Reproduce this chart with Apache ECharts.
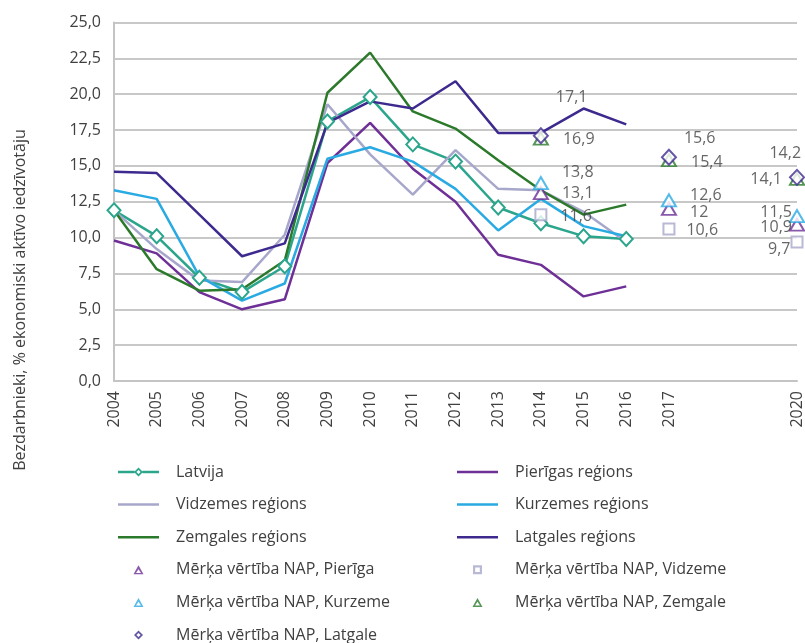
<!DOCTYPE html>
<html>
<head>
<meta charset="utf-8">
<script src="https://cdn.jsdelivr.net/npm/echarts@6/dist/echarts.min.js"></script>
<style>
html,body{margin:0;padding:0;background:#fff;}
#chart{width:805px;height:643px;}
</style>
</head>
<body>
<div id="chart"></div>
<script>
// ---- data ----
const years = ['2004','2005','2006','2007','2008','2009','2010','2011','2012','2013','2014','2015','2016','2017','2018','2019','2020'];
const hiddenYearLabels = ['2018','2019'];
const yTicks = [0, 2.5, 5, 7.5, 10, 12.5, 15, 17.5, 20, 22.5, 25];

const latvija = [11.9, 10.1, 7.2, 6.2, 8.0, 18.1, 19.8, 16.5, 15.3, 12.1, 11.0, 10.1, 9.9, null, null, null, null];
const pieriga = [9.8, 8.9, 6.2, 5.0, 5.7, 15.2, 18.0, 14.8, 12.5, 8.8, 8.1, 5.9, 6.6, null, null, null, null];
const vidzeme = [11.9, 9.2, 7.0, 6.9, 10.2, 19.3, 15.8, 13.0, 16.1, 13.4, 13.3, 11.8, 9.7, null, null, null, null];
const kurzeme = [13.3, 12.7, 7.3, 5.6, 6.8, 15.5, 16.3, 15.3, 13.4, 10.5, 12.7, 10.8, 10.1, null, null, null, null];
const zemgale = [11.9, 7.8, 6.3, 6.4, 8.4, 20.1, 22.9, 18.8, 17.6, 15.4, 13.3, 11.6, 12.3, null, null, null, null];
const latgale = [14.6, 14.5, 11.6, 8.7, 9.6, 18.0, 19.5, 19.0, 20.9, 17.3, 17.3, 19.0, 17.9, null, null, null, null];

const targetYears = ['2014', '2017', '2020'];
const targetPieriga = [13.1, 12, 10.9];
const targetVidzeme = [11.6, 10.6, 9.7];
const targetKurzeme = [13.8, 12.6, 11.5];
const targetZemgale = [16.9, 15.4, 14.1];
const targetLatgale = [17.1, 15.6, 14.2];

// ---- styling ----
const txt = '#404040';
const font = 'Open Sans';
const colors = {
  latvija: '#2ca58d', pieriga: '#6e2f96', vidzeme: '#a7a7cb',
  kurzeme: '#2aaae2', zemgale: '#2b7a2b', latgale: '#3e2a8e'
};
// label placement per target point (2014, 2017, 2020)
const labelPlace = {
  pieriga: [['right',[8,0]], ['right',[8,4]], ['left',[8,3]]],
  vidzeme: [['right',[8,2]], ['right',[6,1]], ['left',[5,8]]],
  kurzeme: [['right',[8,-11]], ['right',[8,-5]], ['left',[8,-4]]],
  zemgale: [['right',[9,1]], ['right',[9,2]], ['left',[-2,1]]],
  latgale: [['right',[2,-38]], ['right',[2,-19]], ['left',[17,-24]]]
};
const fmt = v => String(v).replace('.', ',');

// legend icon shapes (outline shapes drawn as rings)
const ICON_LINE = 'path://M0,0H41V2.5H0Z';
const ICON_LINE_DIAMOND = 'path://M0,3.3H16.5V5.7H0Z M24.5,3.3H41V5.7H24.5Z M20.5,0L25,4.5L20.5,9L16,4.5Z M20.5,2.4L18.4,4.5L20.5,6.6L22.6,4.5Z';
const ICON_TRI = 'path://M5,0L10,9L0,9Z M5,3.9L2.5,7.6L7.5,7.6Z';
const ICON_SQ = 'path://M0,0H9V9H0Z M2.2,2.2V6.8H6.8V2.2Z';
const ICON_DIA = 'path://M4.5,0L9,4.5L4.5,9L0,4.5Z M4.5,2.4L2.4,4.5L4.5,6.6L6.6,4.5Z';

function lineSeries(name, data, color, withMarker) {
  return {
    name, type: 'line', data,
    symbol: withMarker ? 'emptyDiamond' : 'none',
    symbolSize: withMarker ? [13, 14] : 0,
    showSymbol: !!withMarker,
    connectNulls: false,
    lineStyle: { color, width: 2.5 },
    itemStyle: { color, borderWidth: 2.5 },
    emphasis: { disabled: true },
    z: 2
  };
}
function targetSeries(name, key, values, symbol, size, color) {
  return {
    name, type: 'scatter', symbol, symbolSize: size,
    itemStyle: { color, borderWidth: 2.5 },
    emphasis: { disabled: true },
    z: 5,
    data: values.map((v, i) => ({
      value: [targetYears[i], v],
      label: { position: labelPlace[key][i][0], offset: labelPlace[key][i][1] }
    })),
    label: {
      show: true, formatter: p => fmt(p.value[1]),
      color: txt, fontSize: 16, fontFamily: font
    }
  };
}

const chart = echarts.init(document.getElementById('chart'), null, { renderer: 'canvas' });
const legendCommon = {
  orient: 'vertical', itemWidth: 41, itemHeight: 9, itemGap: 16.6, height: 220,
  symbolKeepAspect: true,
  textStyle: { color: txt, fontSize: 16, fontFamily: font, padding: [0, 0, 0, 12], lineHeight: 16 },
  selectedMode: false
};
chart.setOption({
  animation: false,
  backgroundColor: '#fff',
  grid: { left: 114, right: 8, top: 22.5, bottom: 262, containLabel: false },
  xAxis: {
    type: 'category', data: years, boundaryGap: false,
    axisLine: { show: true, lineStyle: { color: '#c4c4c4', width: 2 } },
    axisTick: { show: false },
    axisLabel: {
      rotate: 90, interval: 0, margin: 10, color: txt, fontSize: 16, fontFamily: font,
      formatter: v => hiddenYearLabels.includes(v) ? '' : v
    },
    splitLine: { show: false }
  },
  yAxis: {
    type: 'value', min: yTicks[0], max: yTicks[yTicks.length - 1], interval: yTicks[1] - yTicks[0],
    axisLine: { show: true, lineStyle: { color: '#c4c4c4', width: 2 } },
    axisTick: { show: false },
    axisLabel: { color: txt, fontSize: 16, fontFamily: font, margin: 13, formatter: v => v.toFixed(1).replace('.', ',') },
    splitLine: { lineStyle: { color: '#c8c8c8', width: 2 } }
  },
  legend: [
    Object.assign({}, legendCommon, { left: 113, top: 459,
      data: [
        { name: 'Latvija', icon: ICON_LINE_DIAMOND },
        { name: 'Vidzemes reģions', icon: ICON_LINE },
        { name: 'Zemgales reģions', icon: ICON_LINE },
        { name: 'Mērķa vērtība NAP, Pierīga', icon: ICON_TRI },
        { name: 'Mērķa vērtība NAP, Kurzeme', icon: ICON_TRI },
        { name: 'Mērķa vērtība NAP, Latgale', icon: ICON_DIA }
      ] }),
    Object.assign({}, legendCommon, { left: 452, top: 459,
      data: [
        { name: 'Pierīgas reģions', icon: ICON_LINE },
        { name: 'Kurzemes reģions', icon: ICON_LINE },
        { name: 'Latgales reģions', icon: ICON_LINE },
        { name: 'Mērķa vērtība NAP, Vidzeme', icon: ICON_SQ },
        { name: 'Mērķa vērtība NAP, Zemgale', icon: ICON_TRI }
      ] })
  ],
  graphic: [{
    type: 'text', x: 20, y: 300, rotation: Math.PI / 2,
    style: { text: 'Bezdarbnieki, % ekonomiski aktīvo iedzīvotāju', fill: txt, fontSize: 16, fontFamily: font,
      textAlign: 'center', textVerticalAlign: 'middle' }
  }],
  series: [
    lineSeries('Latvija', latvija, colors.latvija, true),
    lineSeries('Pierīgas reģions', pieriga, colors.pieriga, false),
    lineSeries('Vidzemes reģions', vidzeme, colors.vidzeme, false),
    lineSeries('Kurzemes reģions', kurzeme, colors.kurzeme, false),
    lineSeries('Zemgales reģions', zemgale, colors.zemgale, false),
    lineSeries('Latgales reģions', latgale, colors.latgale, false),
    targetSeries('Mērķa vērtība NAP, Pierīga', 'pieriga', targetPieriga, 'emptyTriangle', [14, 12], colors.pieriga),
    targetSeries('Mērķa vērtība NAP, Vidzeme', 'vidzeme', targetVidzeme, 'emptyRect', 11, colors.vidzeme),
    targetSeries('Mērķa vērtība NAP, Kurzeme', 'kurzeme', targetKurzeme, 'emptyTriangle', [14, 12], colors.kurzeme),
    targetSeries('Mērķa vērtība NAP, Zemgale', 'zemgale', targetZemgale, 'emptyTriangle', [14, 12], colors.zemgale),
    targetSeries('Mērķa vērtība NAP, Latgale', 'latgale', targetLatgale, 'emptyDiamond', [14, 15], colors.latgale)
  ]
});
</script>
</body>
</html>
